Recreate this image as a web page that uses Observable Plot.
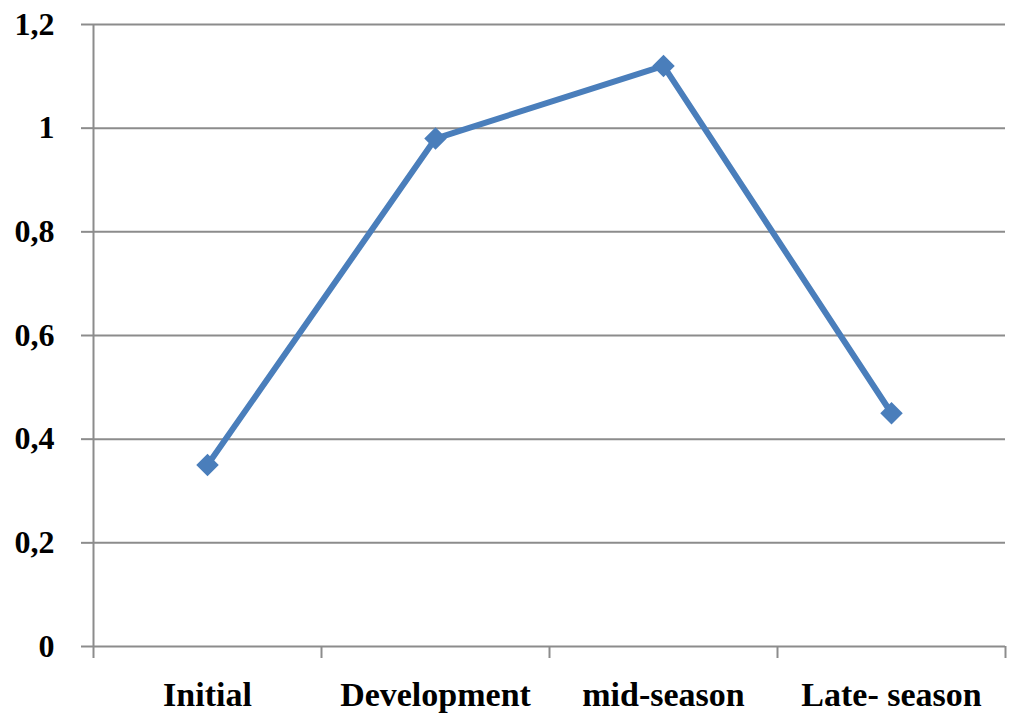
<!DOCTYPE html>
<html>
<head>
<meta charset="utf-8">
<script src="https://cdn.jsdelivr.net/npm/d3@7"></script>
<script src="https://cdn.jsdelivr.net/npm/@observablehq/plot@0.6"></script>
<style>
  html, body { margin: 0; padding: 0; background: #fff; }
</style>
</head>
<body>
<div id="chart"></div>
<script>
const categories = ["Initial", "Development", "mid-season", "Late- season"];
const values = [0.35, 0.98, 1.12, 0.45];
const yTicks = [0, 0.2, 0.4, 0.6, 0.8, 1, 1.2];

const data = categories.map((c, i) => ({ c, pos: i + 0.5, v: values[i] }));
const boundaries = d3.range(categories.length + 1);
const centers = data.map(d => d.pos);

const gridColor = "#8c8c8c";
const font = "'Liberation Serif', 'DejaVu Serif', serif";

const chart = Plot.plot({
  width: 1013,
  height: 715,
  marginLeft: 93,
  marginRight: 8,
  marginTop: 24,
  marginBottom: 69,
  x: { domain: [0, categories.length] },
  y: { domain: [0, 1.2] },
  style: { fontFamily: font, fontWeight: "bold", fontSize: "32px", color: "#000", background: "#fff" },
  marks: [
    Plot.gridY(yTicks, { stroke: gridColor, strokeOpacity: 1, strokeWidth: 2 }),
    Plot.axisY(yTicks, {
      tickSize: 12, tickPadding: 27, stroke: gridColor, strokeWidth: 2,
      tickFormat: d => String(d).replace(".", ","), fontSize: 32, fontWeight: "bold",
      fill: "#000", label: null
    }),
    Plot.ruleX([0], { stroke: gridColor, strokeWidth: 2 }),
    Plot.axisX(boundaries, { tickSize: 12, stroke: gridColor, strokeWidth: 2, tickFormat: () => "", label: null }),
    Plot.axisX(centers, {
      tickSize: 0, tickPadding: 35, tickFormat: d => categories[d - 0.5],
      fontSize: 34, fontWeight: "bold", fill: "#000", label: null
    }),
    Plot.line(data, { x: "pos", y: "v", stroke: "#4a7ebb", strokeWidth: 6, strokeLinejoin: "round" }),
    Plot.dot(data, { x: "pos", y: "v", symbol: "square", r: 9, rotate: 45, fill: "#4a7ebb", stroke: "none" })
  ]
});
document.getElementById("chart").appendChild(chart);
</script>
</body>
</html>
